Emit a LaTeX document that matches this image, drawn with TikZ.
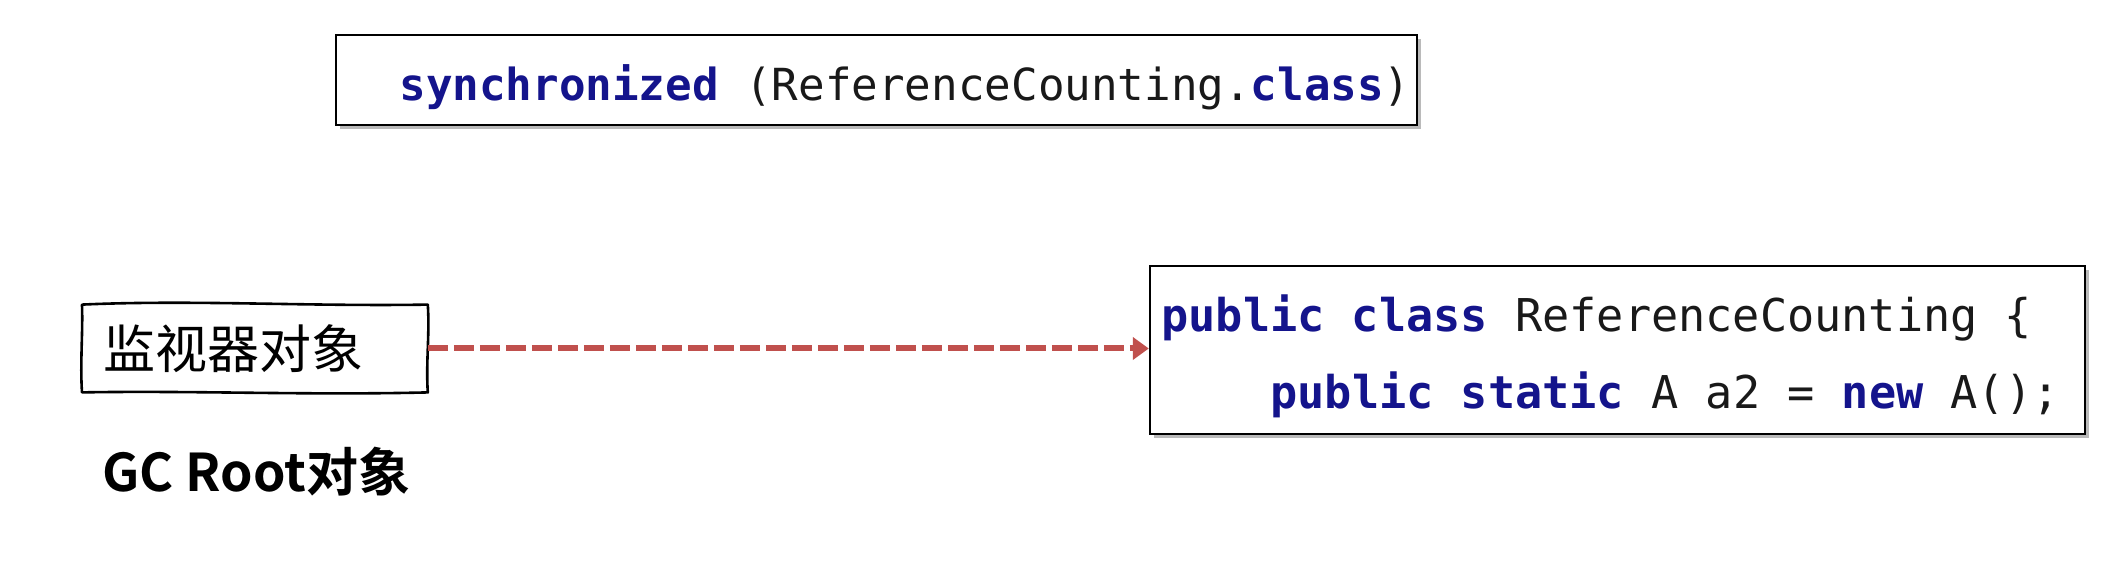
\documentclass[tikz,border=0pt]{standalone}
\usepackage{fontspec}
\newfontfamily\cjk{Noto Sans CJK SC}
\newfontfamily\cjkb{Noto Sans CJK SC Bold}
\newfontfamily\codefont{DejaVu Sans Mono}
\usetikzlibrary{arrows.meta,shadows}
\definecolor{kw}{RGB}{20,20,140}
\definecolor{txt}{RGB}{25,25,25}
\definecolor{arr}{RGB}{192,80,77}
\newcommand{\kwd}[1]{\textcolor{kw}{\bfseries #1}}
\begin{document}
\begin{tikzpicture}[x=0.5pt,y=-0.5pt,
  codebox/.style={draw=black,line width=1.2pt,fill=white,inner sep=0pt,
    drop shadow={opacity=0.45,fill=black!60,shadow xshift=2pt,shadow yshift=-2pt}},
  codetext/.style={anchor=base west,inner sep=0pt,
    font=\codefont\fontsize{22.6pt}{27pt}\selectfont,text=txt},
  refarrow/.style={draw=arr,line width=3pt,dash pattern=on 10pt off 3pt,
    -{Triangle[length=8pt,width=11pt]}},
  handbox/.style={line width=1.3pt,line join=round}]
\useasboundingbox (0,0) rectangle (2126,582);

% top code box
\node[codebox,minimum width=540.5pt,minimum height=45pt] (top) at (876.5,80) {};
\node[codetext,font=\codefont\fontsize{22.1pt}{27pt}\selectfont] (sync) at (399,101)
  {\kwd{synchronized} (ReferenceCounting.\kwd{class})};

% right code box
\node[codebox,minimum width=467.5pt,minimum height=84pt] (cls) at (1617.5,350) {};
\node[codetext] (l1) at (1161,332) {\kwd{public class} ReferenceCounting \{};
\node[codetext] (l2) at (1270,409) {\kwd{public static} A a2 = \kwd{new} A();};

% monitor object (hand-drawn box)
\node[inner xsep=10.5pt,inner ysep=0pt,text width=151.5pt,minimum height=43.5pt,
  align=left,anchor=west,font=\cjk\fontsize{26pt}{30pt}\selectfont] (mon) at (82,348.5) {监视器对象};
\draw[handbox] (mon.north west) .. controls +(110,-5) and +(-120,2) .. (mon.north east)
  .. controls +(2,30) and +(-2,-30) .. (mon.south east)
  .. controls +(-120,3) and +(110,-2) .. (mon.south west)
  .. controls +(-2,-30) and +(1,30) .. cycle;

% arrow
\draw[refarrow] (mon.east) -- (mon.east -| cls.west);

% label
\node[anchor=base west,inner sep=0pt,font=\cjkb\fontsize{26pt}{30pt}\selectfont] (gc) at (102,492) {GC Root对象};
\end{tikzpicture}
\end{document}
